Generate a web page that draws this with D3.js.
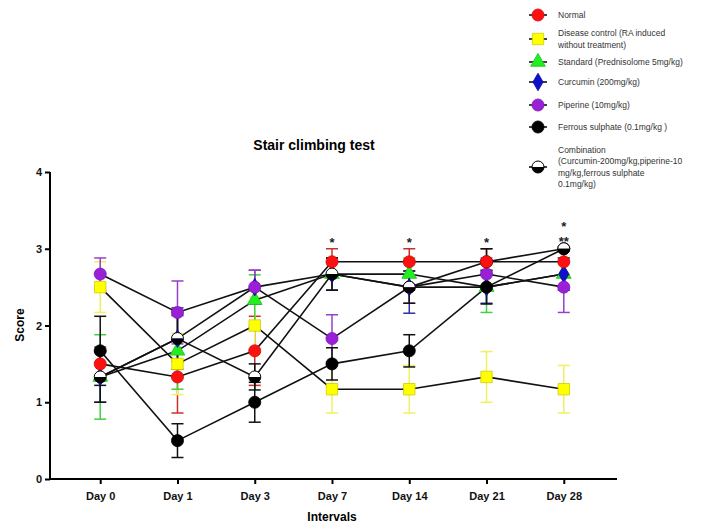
<!DOCTYPE html>
<html>
<head>
<meta charset="utf-8">
<script src="https://cdn.jsdelivr.net/npm/d3@7.9.0/dist/d3.min.js"></script>
<style>
  body { margin: 0; background: #fff; }
  svg { display: block; font-family: Arial, "Liberation Sans", sans-serif; }
</style>
</head>
<body>
<div id="chart"></div>
<script>
const days = ['Day 0', 'Day 1', 'Day 3', 'Day 7', 'Day 14', 'Day 21', 'Day 28'];
const yTicks = [0, 1, 2, 3, 4];

const seriesNames = [
  'Normal',
  'Disease control (RA induced\nwithout treatment)',
  'Standard (Prednisolome 5mg/kg)',
  'Curcumin (200mg/kg)',
  'Piperine (10mg/kg)',
  'Ferrous sulphate (0.1mg/kg )',
  'Combination\n(Curcumin-200mg/kg,piperine-10\nmg/kg,ferrous sulphate\n0.1mg/kg)'
];

const normalMean = [1.5, 1.33, 1.67, 2.83, 2.83, 2.83, 2.83];
const normalErr = [0.22, 0.47, 0.45, 0.17, 0.17, 0.17, 0.17];
const diseaseMean = [2.5, 1.5, 2.0, 1.17, 1.17, 1.33, 1.17];
const diseaseErr = [0.33, 0.4, 0.37, 0.31, 0.31, 0.33, 0.31];
const standardMean = [1.33, 1.67, 2.33, 2.67, 2.67, 2.5, 2.67];
const standardErr = [0.55, 0.5, 0.33, 0.21, 0.21, 0.33, 0.21];
const curcuminMean = [1.33, 1.83, 2.5, 2.67, 2.5, 2.5, 2.67];
const curcuminErr = [0.33, 0.4, 0.22, 0.21, 0.34, 0.21, 0.21];
const piperineMean = [2.67, 2.17, 2.5, 1.83, 2.5, 2.67, 2.5];
const piperineErr = [0.21, 0.41, 0.22, 0.31, 0.21, 0.21, 0.33];
const ferrousMean = [1.67, 0.5, 1.0, 1.5, 1.67, 2.5, 3.0];
const ferrousErr = [0.45, 0.22, 0.26, 0.21, 0.21, 0.22, 0.0];
const comboMean = [1.33, 1.83, 1.33, 2.67, 2.5, 2.83, 3.0];
const comboErr = [0.33, 0.3, 0.17, 0.21, 0.21, 0.17, 0.0];

const fills = ['#ff1010', '#ffff00', '#22ee22', '#1010c8', '#9a20d8', '#000000', '#ffffff'];
const barColors = ['#c83030', '#f0f060', '#40d040', '#3030a8', '#9840c8', '#111111', '#111111'];
const shapes = ['circle', 'square', 'triangle', 'diamond', 'circle', 'circle', 'half'];

const stars = [
  { day: 'Day 7', lines: ['*'] },
  { day: 'Day 14', lines: ['*'] },
  { day: 'Day 21', lines: ['*'] },
  { day: 'Day 28', lines: ['*', '**'] }
];

const means = [normalMean, diseaseMean, standardMean, curcuminMean, piperineMean, ferrousMean, comboMean];
const errs = [normalErr, diseaseErr, standardErr, curcuminErr, piperineErr, ferrousErr, comboErr];

const series = seriesNames.map((name, i) => ({
  name,
  fill: fills[i],
  bar: barColors[i],
  shape: shapes[i],
  values: days.map((d, j) => ({ day: d, mean: means[i][j], err: errs[i][j] }))
}));

const width = 702, height = 527;
const svg = d3.select('#chart').append('svg')
  .attr('width', width).attr('height', height);

const x = d3.scalePoint().domain(days).range([50, 614]).padding(0.65);
const y = d3.scaleLinear().domain([0, 4]).range([479, 172]);

function drawMarker(g, s, cx, cy) {
  if (s.shape === 'half') {
    const r = 6;
    g.append('path')
      .attr('d', `M${cx - r},${cy} A${r},${r} 0 0 1 ${cx + r},${cy} Z`)
      .attr('fill', '#fff');
    g.append('path')
      .attr('d', `M${cx - r},${cy} A${r},${r} 0 0 0 ${cx + r},${cy} Z`)
      .attr('fill', '#000');
    g.append('circle').attr('cx', cx).attr('cy', cy).attr('r', r)
      .attr('fill', 'none').attr('stroke', '#000').attr('stroke-width', 1);
    return;
  }
  const type = { circle: d3.symbolCircle, square: d3.symbolSquare, triangle: d3.symbolTriangle, diamond: d3.symbolDiamond }[s.shape];
  const size = { circle: 115, square: 130, triangle: 95, diamond: 90 }[s.shape];
  g.append('path')
    .attr('d', d3.symbol(type, size)())
    .attr('transform', `translate(${cx},${cy})`)
    .attr('fill', s.fill)
    .attr('stroke', d3.color(s.fill).darker(0.6))
    .attr('stroke-width', 0.8);
}

// title
svg.append('text')
  .attr('x', 314).attr('y', 150)
  .attr('text-anchor', 'middle')
  .attr('font-size', 14).attr('font-weight', 'bold')
  .text('Stair climbing test');

// axes
const yAxis = svg.append('g')
  .attr('transform', 'translate(50,0)')
  .call(d3.axisLeft(y).tickValues(yTicks).tickSize(5).tickPadding(3).tickFormat(d3.format('d')));
const xAxis = svg.append('g')
  .attr('transform', 'translate(0,479)')
  .call(d3.axisBottom(x).tickSize(5).tickPadding(8));
[yAxis, xAxis].forEach(a => {
  a.select('.domain').attr('stroke', '#000').attr('stroke-width', 2);
  a.selectAll('.tick line').attr('stroke', '#000').attr('stroke-width', 2);
  a.selectAll('.tick text').attr('fill', '#111').attr('font-size', 11).attr('font-weight', 'bold')
    .attr('font-family', 'Arial, "Liberation Sans", sans-serif');
});
yAxis.select('.domain').attr('d', 'M0,479V172');
xAxis.select('.domain').attr('d', 'M50,0H617');

svg.append('text')
  .attr('transform', 'translate(24,325) rotate(-90)')
  .attr('text-anchor', 'middle')
  .attr('font-size', 12).attr('font-weight', 'bold')
  .text('Score');
svg.append('text')
  .attr('x', 332).attr('y', 521)
  .attr('text-anchor', 'middle')
  .attr('font-size', 12).attr('font-weight', 'bold')
  .text('Intervals');

// error bars
const errG = svg.append('g');
series.forEach(s => {
  s.values.forEach(v => {
    if (v.err <= 0) return;
    const cx = x(v.day);
    const y0 = y(v.mean - v.err), y1 = y(v.mean + v.err);
    errG.append('line').attr('x1', cx).attr('x2', cx).attr('y1', y0).attr('y2', y1)
      .attr('stroke', s.bar).attr('stroke-width', 1.5);
    [y0, y1].forEach(yy => errG.append('line')
      .attr('x1', cx - 6).attr('x2', cx + 6).attr('y1', yy).attr('y2', yy)
      .attr('stroke', s.bar).attr('stroke-width', 1.5));
  });
});

// connecting lines
const line = d3.line().x(d => x(d.day)).y(d => y(d.mean));
const lineG = svg.append('g');
series.forEach(s => {
  lineG.append('path').attr('d', line(s.values))
    .attr('fill', 'none').attr('stroke', '#111').attr('stroke-width', 1.6);
});

// markers
const markG = svg.append('g');
const order = [1, 2, 3, 4, 5, 6, 0];
order.forEach(i => {
  const s = series[i];
  s.values.forEach(v => drawMarker(markG, s, x(v.day), y(v.mean)));
});

// significance stars
stars.forEach(st => {
  const n = st.lines.length;
  const base = n > 1 ? 246 : 247;
  st.lines.forEach((s, k) => {
    svg.append('text')
      .attr('x', x(st.day)).attr('y', base - (n - 1 - k) * 15)
      .attr('text-anchor', 'middle')
      .attr('font-size', 13).attr('font-weight', 'bold').attr('fill', '#222')
      .text(s);
  });
});

// legend
const legendRows = [15, 39, 62, 82, 105, 127, 167];
const legend = svg.append('g');
series.forEach((s, i) => {
  const cy = legendRows[i];
  legend.append('line').attr('x1', 529).attr('x2', 547).attr('y1', cy).attr('y2', cy)
    .attr('stroke', '#111').attr('stroke-width', 1.6);
  drawMarker(legend, s, 538, cy);
  const parts = s.name.split('\n');
  const lh = 11.5;
  const top = cy - (parts.length - 1) * lh / 2;
  const txt = legend.append('text')
    .attr('font-size', 8.5).attr('fill', '#333');
  parts.forEach((p, k) => {
    txt.append('tspan').attr('x', 558).attr('y', top + k * lh + 3).text(p);
  });
});
</script>
</body>
</html>
